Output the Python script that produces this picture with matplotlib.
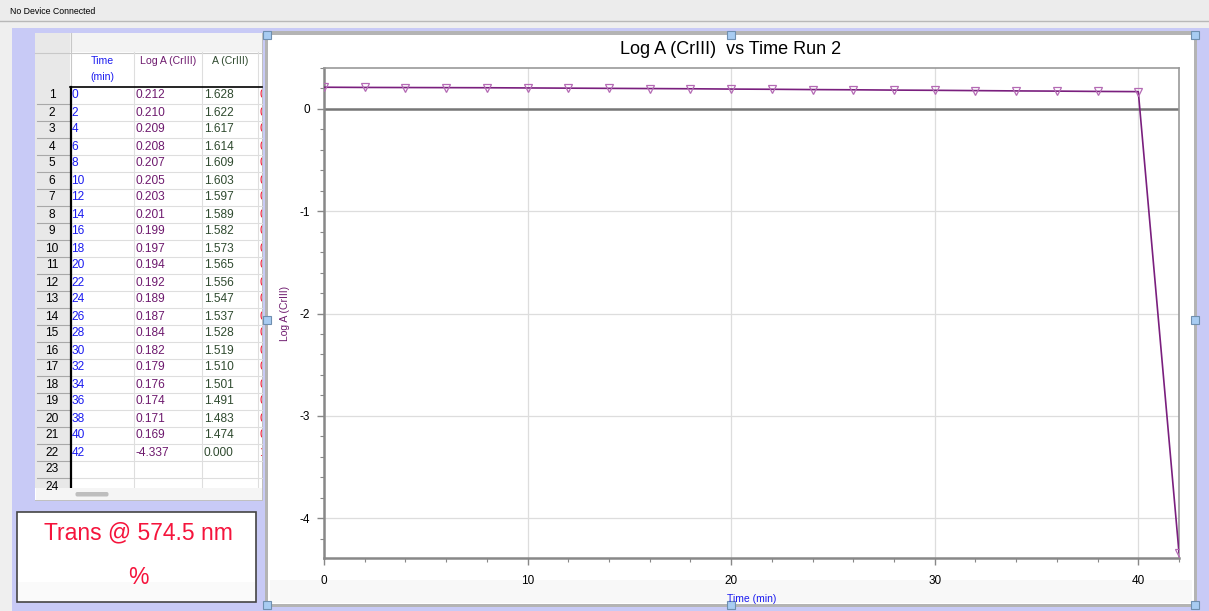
import matplotlib
matplotlib.use("Agg")
import matplotlib.pyplot as plt
from matplotlib.patches import Rectangle, FancyBboxPatch
from matplotlib.ticker import MultipleLocator

plt.rcParams['font.family'] = ['Liberation Sans', 'DejaVu Sans']
plt.rcParams['axes.unicode_minus'] = False

# ---------------- data ----------------
time_min = [0, 2, 4, 6, 8, 10, 12, 14, 16, 18, 20, 22, 24, 26, 28, 30, 32, 34, 36, 38, 40, 42]
log_a = [0.212, 0.210, 0.209, 0.208, 0.207, 0.205, 0.203, 0.201, 0.199, 0.197, 0.194,
         0.192, 0.189, 0.187, 0.184, 0.182, 0.179, 0.176, 0.174, 0.171, 0.169, -4.337]
a_vals = [1.628, 1.622, 1.617, 1.614, 1.609, 1.603, 1.597, 1.589, 1.582, 1.573, 1.565,
          1.556, 1.547, 1.537, 1.528, 1.519, 1.510, 1.501, 1.491, 1.483, 1.474, 0.000]
a_text = ["%.3f" % v for v in a_vals]
loga_text = ["%.3f" % v for v in log_a]
time_text = [str(t) for t in time_min]
trans_first_char = ["0"] * 21 + ["1"]
n_rows = 24

title = "Log A (CrIII)  vs Time Run 2"
xlabel = "Time (min)"
ylabel = "Log A (CrIII)"
meter_label = "Trans @ 574.5 nm"
meter_unit = "%"
status = "No Device Connected"

W, H = 1209, 611
fig = plt.figure(figsize=(W / 100, H / 100), dpi=100)
fig.patch.set_facecolor('#ECECEC')

bg = fig.add_axes([0, 0, 1, 1])
bg.set_xlim(0, W)
bg.set_ylim(H, 0)
bg.axis('off')

def rect(x0, y0, x1, y1, fc, ec='none', lw=0, z=1, **kw):
    r = Rectangle((x0, y0), x1 - x0, y1 - y0, facecolor=fc, edgecolor=ec, linewidth=lw, zorder=z, **kw)
    bg.add_patch(r)
    return r

# window chrome
rect(0, 0, W, 20, '#ECECEC')
bg.plot([0, W], [20.5, 20.5], color='#B8B8B8', lw=1, zorder=2)
rect(0, 21, W, H, '#EFEFEF')
bg.text(10, 11, status, fontsize=6.3, color='black', va='center', ha='left', zorder=3)
rect(12, 28, W, H, '#C8CAF6', z=1)

# chart panel
rect(265, 31, 1197, 607, '#B4B4B4', z=2)
rect(268, 35, 1194, 604, 'white', z=2)
rect(270, 580, 1192, 603, '#F8F8F8', z=2)

# table panel
rect(35, 33, 263, 501, '#C0C0C0', z=2)
rect(35, 33, 262, 500, 'white', z=2)
rect(35, 33, 70, 488, '#E8E8E8', z=3)
rect(70, 33, 262, 52, '#F3F3F3', z=3)
bg.plot([35, 262], [52.5, 52.5], color='#C8C8C8', lw=0.8, zorder=4)
bg.plot([70.5, 70.5], [33, 87], color='#C8C8C8', lw=0.8, zorder=4)
row_h = 17
top_row = 87
for i in range(1, n_rows + 1):
    y = top_row + row_h * i
    if y < 488:
        bg.plot([70, 262], [y, y], color='#DEDEDE', lw=0.8, zorder=4)
        bg.plot([37, 70], [y, y], color='#A8A8A8', lw=0.8, zorder=4)
for xc in [134, 202, 258]:
    bg.plot([xc, xc], [52, 488], color='#DEDEDE', lw=0.8, zorder=4)
bg.plot([70.5, 70.5], [87, 488], color='black', lw=1.6, zorder=5)
bg.plot([70, 262], [87, 87], color='black', lw=1.2, zorder=5)

# headers
hdr_fs = 7.6
bg.text(102, 61, "Time", color='#1C1CF0', fontsize=hdr_fs, ha='center', va='center', zorder=5)
bg.text(102, 77, "(min)", color='#1C1CF0', fontsize=hdr_fs, ha='center', va='center', zorder=5)
bg.text(168, 61, "Log A (CrIII)", color='#6E1A6E', fontsize=hdr_fs, ha='center', va='center', zorder=5)
bg.text(230, 61, "A (CrIII)", color='#2F4A2F', fontsize=hdr_fs, ha='center', va='center', zorder=5)

cell_fs = 8.6
clip = Rectangle((35, 33), 227, 455, transform=bg.transData)
for i in range(n_rows):
    yc = top_row + row_h * (i + 0.5)
    t = bg.text(52, yc, str(i + 1), color='black', fontsize=cell_fs, ha='center', va='center', zorder=6)
    t.set_clip_path(clip)
    if i < len(time_min):
        bg.text(71.5, yc, time_text[i], color='#1C1CF0', fontsize=cell_fs, ha='left', va='center', zorder=6)
        bg.text(135, yc, loga_text[i], color='#6E1A6E', fontsize=cell_fs, ha='left', va='center', zorder=6)
        bg.text(204, yc, a_text[i], color='#2F4A2F', fontsize=cell_fs, ha='left', va='center', zorder=6)
        tr = bg.text(259, yc, trans_first_char[i], color='#F01030', fontsize=cell_fs, ha='left', va='center', zorder=6)
        tr.set_clip_path(clip)
        tr.set_clip_on(True)

# scroll bar
rect(36, 488, 262, 500, '#F5F5F5', z=5)
bg.add_patch(FancyBboxPatch((76, 492.5), 32, 3.5, boxstyle="round,pad=0.5,rounding_size=1.8",
                            facecolor='#BEBEBE', edgecolor='none', zorder=6))

# meter box
rect(17, 512, 256, 602, 'white', ec='#444444', lw=1.2, z=3)
rect(18, 582, 255, 601, '#FAFAFA', z=3)
bg.text(138, 533, meter_label, color='#F5143C', fontsize=16.5, ha='center', va='center', zorder=6)
bg.text(138, 578, meter_unit, color='#F5143C', fontsize=16.5, ha='center', va='center', zorder=6)

# chart title
bg.text(731, 50, title, color='black', fontsize=13, ha='center', va='center', zorder=6)

# resize handles
for hx, hy in [(267, 35), (731, 35), (1195, 35), (267, 320), (1195, 320),
               (267, 605), (731, 605), (1195, 605)]:
    rect(hx - 4, hy - 4, hx + 4, hy + 4, '#A8CCF2', ec='#6F8FB0', lw=0.8, z=8)

# ---------------- graph ----------------
ax = fig.add_axes([324 / W, 1 - 558 / H, (1179 - 324) / W, (558 - 68) / H])
ax.set_facecolor('white')
ax.plot(time_min, log_a, color='#7A1F7E', lw=1.2, zorder=3,
        marker='v', markersize=6, markerfacecolor='none',
        markeredgecolor='#B46AB4', markeredgewidth=0.9)
ax.set_xlim(0, 42)
ax.set_ylim(-4.39, 0.40)
ax.xaxis.set_major_locator(MultipleLocator(10))
ax.xaxis.set_minor_locator(MultipleLocator(2))
ax.yaxis.set_major_locator(MultipleLocator(1))
ax.yaxis.set_minor_locator(MultipleLocator(0.2))
ax.grid(True, which='major', color='#DDDDDD', lw=0.9, zorder=0)
ax.axhline(0, color='#777777', lw=1.8, zorder=2)
for s in ['left', 'bottom']:
    ax.spines[s].set_color('#888888')
    ax.spines[s].set_linewidth(1.8)
for s in ['top', 'right']:
    ax.spines[s].set_color('#999999')
    ax.spines[s].set_linewidth(1.2)
ax.tick_params(which='major', length=5, width=1, color='#888888', labelsize=8.5, labelcolor='black')
ax.tick_params(axis='x', which='major', pad=7)
ax.tick_params(axis='y', which='major', pad=5)
ax.tick_params(which='minor', length=3, width=0.8, color='#888888')
ax.set_xlabel(xlabel, color='#1C1CF0', fontsize=7.5, labelpad=5)
ax.set_ylabel(ylabel, color='#6E1A6E', fontsize=7.5, labelpad=7)

fig.savefig("out.png", dpi=100, facecolor=fig.get_facecolor())
